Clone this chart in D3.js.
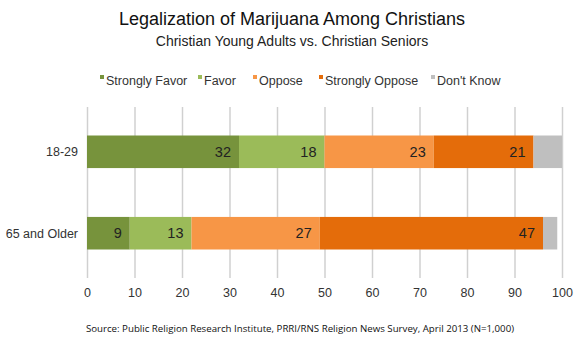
<!DOCTYPE html>
<html>
<head>
<meta charset="utf-8">
<script src="https://cdn.jsdelivr.net/npm/d3@7"></script>
<style>
  body { margin: 0; background: #fff; }
  svg { font-family: 'Liberation Sans', Arial, sans-serif; }
</style>
</head>
<body>
<svg width="584" height="343"></svg>
<script>
// data
const groups = ['18-29', '65 and Older']
const seriesNames = ['Strongly Favor', 'Favor', 'Oppose', 'Strongly Oppose', "Don't Know"]
const stronglyFavor = [32, 9]
const favor = [18, 13]
const oppose = [23, 27]
const stronglyOppose = [21, 47]
const dontKnow = [6, 3]
const xTicks = [0, 10, 20, 30, 40, 50, 60, 70, 80, 90, 100]
const colors = ['#77933c', '#9bbb59', '#f79646', '#e46c0a', '#bfbfbf']

const values = [stronglyFavor, favor, oppose, stronglyOppose, dontKnow]
const rows = groups.map((g, i) => {
  let o = { group: g }
  seriesNames.forEach((s, j) => { o[s] = values[j][i] })
  return o
})

const svg = d3.select('svg')
const margin = { top: 107, left: 87, right: 22, bottom: 65 }
const width = 584 - margin.left - margin.right
const height = 343 - margin.top - margin.bottom

const x = d3.scaleLinear().domain([0, 100]).range([0, width])
const y = d3.scaleBand().domain(groups).range([0, height]).paddingInner(0.6).paddingOuter(0.35)

// titles
svg.append('text').attr('x', 292).attr('y', 25).attr('text-anchor', 'middle')
  .style('font-size', '18px').attr('fill', '#111')
  .text('Legalization of Marijuana Among Christians')
svg.append('text').attr('x', 292).attr('y', 46).attr('text-anchor', 'middle')
  .style('font-size', '14px').attr('fill', '#222')
  .text('Christian Young Adults vs. Christian Seniors')

// legend
const legendX = [100, 198, 253, 319, 431]
const legend = svg.append('g').attr('transform', 'translate(0,80)')
seriesNames.forEach((s, i) => {
  legend.append('rect').attr('x', legendX[i]).attr('y', -5).attr('width', 4).attr('height', 4).attr('fill', colors[i])
  legend.append('text').attr('x', legendX[i] + 6).attr('y', 5)
    .style('font-size', '12.5px').attr('fill', '#333').text(s)
})

const g = svg.append('g').attr('transform', 'translate(' + margin.left + ',' + margin.top + ')')

// grid + axis
const xAxis = d3.axisBottom(x).tickValues(xTicks).tickSize(height).tickFormat(d3.format('d'))
g.append('g').attr('class', 'axis--x').call(xAxis)
  .call(a => a.select('.domain').remove())
  .call(a => a.selectAll('line').attr('stroke', '#d0d0d0').attr('stroke-width', 1.5))
  .call(a => a.selectAll('text').attr('dy', 0).attr('y', height + 19)
    .style('font-size', '12.5px').attr('fill', '#333').style('font-family', "'Liberation Sans', Arial, sans-serif"))

// bars
const stack = d3.stack().keys(seriesNames)(rows)
const layer = g.selectAll('.layer').data(stack).enter().append('g')
  .attr('fill', (d, i) => colors[i])
layer.selectAll('rect').data(d => d).enter().append('rect')
  .attr('x', d => x(d[0]))
  .attr('width', d => x(d[1]) - x(d[0]))
  .attr('y', d => y(d.data.group))
  .attr('height', y.bandwidth())

// value labels (no label for Don't Know)
layer.filter((d, i) => i < 4).selectAll('text').data(d => d).enter().append('text')
  .attr('x', d => x(d[1]) - 8)
  .attr('y', d => y(d.data.group) + y.bandwidth() / 2)
  .attr('dy', '0.36em')
  .attr('text-anchor', 'end')
  .style('font-size', '14.5px')
  .attr('fill', '#222')
  .text(d => d[1] - d[0])

// category labels
g.selectAll('.cat').data(groups).enter().append('text')
  .attr('x', -9).attr('y', d => y(d) + y.bandwidth() / 2).attr('dy', '0.36em')
  .attr('text-anchor', 'end').style('font-size', '12.5px').attr('fill', '#333')
  .text(d => d)

// source
svg.append('text').attr('x', 300).attr('y', 332).attr('text-anchor', 'middle')
  .style('font-size', '9.7px').style('font-family', "'Open Sans', sans-serif").attr('fill', '#111')
  .text('Source: Public Religion Research Institute, PRRI/RNS Religion News Survey, April 2013 (N=1,000)')
</script>
</body>
</html>
